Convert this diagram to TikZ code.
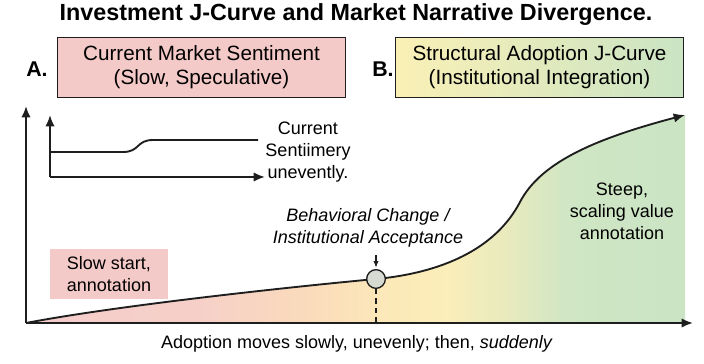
\documentclass[tikz,border=0pt]{standalone}
\usepackage{fontspec}
\setmainfont{Liberation Sans}
\usetikzlibrary{positioning,arrows.meta,calc}

\definecolor{ink}{RGB}{30,30,30}
\definecolor{pinkA}{RGB}{244,202,200}
\definecolor{yelB}{RGB}{250,240,182}
\definecolor{grnB}{RGB}{202,228,196}
\definecolor{dotc}{RGB}{214,218,208}
\definecolor{sh1}{RGB}{244,204,204}
\definecolor{sh2}{RGB}{246,208,200}
\definecolor{sh3}{RGB}{250,218,188}
\definecolor{sh4}{RGB}{252,232,184}
\definecolor{sh5}{RGB}{250,238,186}
\definecolor{sh6}{RGB}{230,234,190}
\definecolor{sh7}{RGB}{208,230,196}
\definecolor{sh8}{RGB}{202,228,196}
\pgfdeclarehorizontalshading{jshade}{100bp}{color(0bp)=(sh1); color(25bp)=(sh1);
  color(38bp)=(sh2); color(46bp)=(sh3); color(52bp)=(sh4); color(57bp)=(sh5);
  color(62bp)=(sh6); color(66bp)=(sh7); color(75bp)=(sh8); color(100bp)=(sh8)}

\begin{document}
\begin{tikzpicture}[x=0.75pt, y=-0.75pt,
  ax/.style={line width=1.4pt, draw=ink},
  arr/.style={-{Latex[length=8.5pt,width=7pt]}},
  hdr/.style={draw=ink, line width=0.9pt, minimum width=216pt, minimum height=45pt,
    inner sep=0pt, align=center, font=\fontsize{15.5}{18}\selectfont},
  tag/.style={font=\fontsize{16}{18}\selectfont\bfseries},
  lb/.style={font=\fontsize{13.5}{16.5}\selectfont, align=center},
]
\useasboundingbox (0,0) rectangle (704,364);

% title and the two panels
\node[font=\fontsize{17.5}{20}\selectfont\bfseries] (title) at (356,15) {Investment J-Curve and Market Narrative Divergence.};
\node[hdr, fill=pinkA] (boxA) at (201.5,67.5) {Current Market Sentiment\\(Slow, Speculative)};
\node[hdr, left color=yelB, right color=grnB] (boxB) at (539.5,67.5) {Structural Adoption J-Curve\\(Institutional Integration)};
\node[tag] (tagA) at (37,69) {A.};
\node[tag] (tagB) at (383,69) {B.};

% area under the J-curve
\shade[shading=jshade] (26,323) .. controls (120,305) and (300,286) .. (376,279)
  .. controls (440,273) and (495,250) .. (520,202)
  .. controls (540,164) and (590,140) .. (685,115) -- (685,323) -- cycle;

% main axes
\coordinate (o) at (26,323);
\draw[ax, arr] (o) -- (26,106);
\draw[ax, arr] (o) -- (693,323);

% J-curve
\draw[ax, arr] (o) .. controls (120,305) and (300,286) .. (376,279)
  .. controls (440,273) and (495,250) .. (520,202)
  .. controls (540,164) and (590,140) .. (685,115);

% inset: sentiment
\coordinate (io) at (50,177);
\draw[ax, arr] (io) -- (50,115);
\draw[ax, arr] (io) -- (265,177);
\draw[ax] (50,152) -- (123,152) .. controls (140,152) and (136,140) .. (153,140) -- (258,140);
\node[lb] (sent) at (308,152) {Current\\Sentiimery\\unevently.};

% turning point
\node[circle, draw=ink, line width=1pt, fill=dotc, minimum size=14pt, inner sep=0pt] (turn) at (376,279) {};
\draw[ink, line width=1pt, dash pattern=on 4pt off 3pt] (turn.south) -- (turn |- o);
\coordinate (ptr) at (376,255);
\draw[ink, line width=0.8pt, -{Latex[length=5pt,width=4pt]}, shorten >=1pt] (ptr) -- (turn.north);
\node[lb, font=\fontsize{13.5}{16.5}\selectfont\itshape] (behav) at (368,228) {Behavioral Change /\\Institutional Acceptance};

% annotations
\node[lb, fill=pinkA, minimum width=88.5pt, minimum height=37.5pt, inner sep=0pt] (slow) at (109,274) {Slow start,\\annotation};
\node[lb] (steep) at (622,211) {Steep,\\scaling value\\annotation};
\node[lb] (xlab) at (357,344) {Adoption moves slowly, unevenly; then, \textit{suddenly}};
\end{tikzpicture}
\end{document}
